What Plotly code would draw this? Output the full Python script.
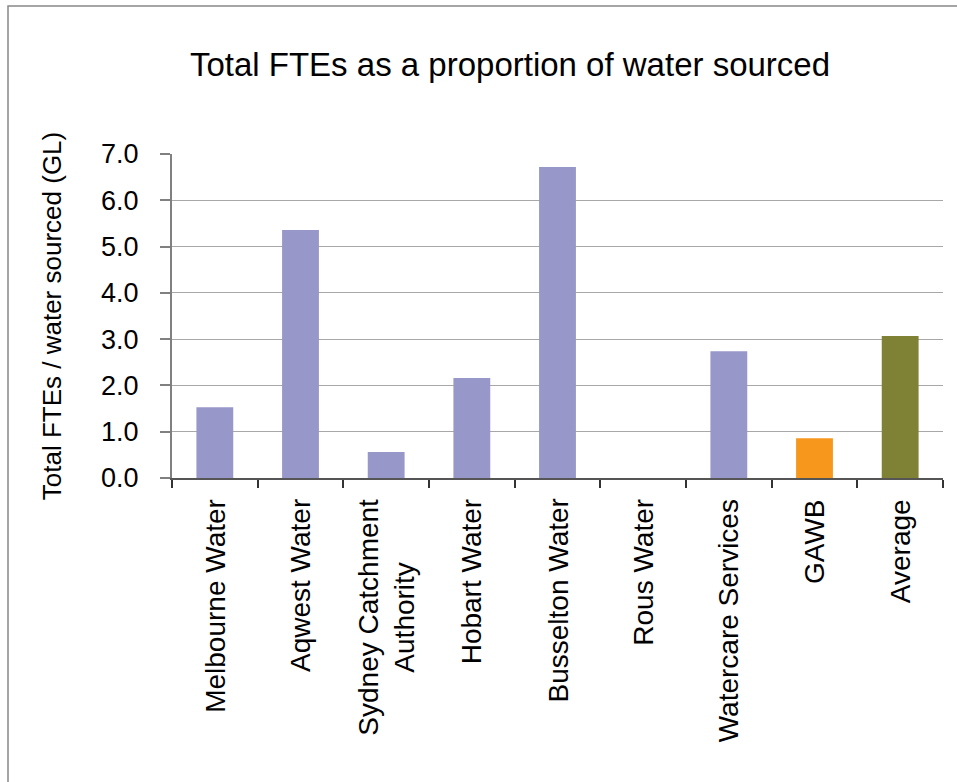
import plotly.graph_objects as go

categories = ["Melbourne Water", "Aqwest Water", "Sydney Catchment<br>Authority",
              "Hobart Water", "Busselton Water", "Rous Water",
              "Watercare Services", "GAWB", "Average"]
values = [1.53, 5.36, 0.56, 2.16, 6.72, 0.0, 2.74, 0.86, 3.07]
bar_colors = ["#9797C9"] * 7 + ["#F7981D", "#7F8234"]
y_ticks = [0, 1, 2, 3, 4, 5, 6, 7]

FONT = "Arial, Liberation Sans, sans-serif"

fig = go.Figure()
fig.add_trace(go.Bar(
    x=categories, y=values,
    marker=dict(color=bar_colors, line=dict(width=0)),
    showlegend=False,
))

for cat in categories:
    fig.add_annotation(
        x=cat, xref="x", y=0, yref="paper", yshift=-19,
        text=cat, textangle=-90, showarrow=False,
        xanchor="center", yanchor="top", align="center",
        font=dict(family=FONT, size=28, color="#000000"),
    )

fig.update_layout(
    width=957, height=782,
    margin=dict(l=172, r=14, t=154, b=304),
    paper_bgcolor="white", plot_bgcolor="white",
    bargap=0.57,
    title=dict(text="Total FTEs as a proportion of water sourced",
               x=510 / 957, xanchor="center", xref="container",
               y=1 - 64 / 782, yanchor="middle", yref="container",
               font=dict(family=FONT, size=33, color="#000000")),
    xaxis=dict(
        showticklabels=False, showgrid=False,
        showline=True, linecolor="#555555", linewidth=1.5,
        ticks="outside", tickson="boundaries", ticklen=8,
        tickcolor="#333333", tickwidth=1.5,
    ),
    yaxis=dict(
        range=[0, 7], tickvals=y_ticks, tickformat=".1f",
        showgrid=True, gridcolor="#A8A8A8", gridwidth=1,
        showline=True, linecolor="#808080", linewidth=2,
        ticks="outside", ticklen=10, tickcolor="#808080", tickwidth=1.5,
        ticklabelstandoff=16,
        tickfont=dict(family=FONT, size=27, color="#000000"),
        zeroline=False,
        title=dict(text="Total FTEs / water sourced (GL)", standoff=32,
                   font=dict(family=FONT, size=26, color="#000000")),
    ),
    shapes=[dict(type="rect", xref="paper", yref="paper",
                 x0=(8 - 172) / 771, x1=(965 - 172) / 771,
                 y0=(478 - 790) / 324, y1=(478 - 6) / 324,
                 line=dict(color="#888888", width=1.5), fillcolor="rgba(0,0,0,0)",
                 layer="below")],
)

fig.write_html("out.html")
